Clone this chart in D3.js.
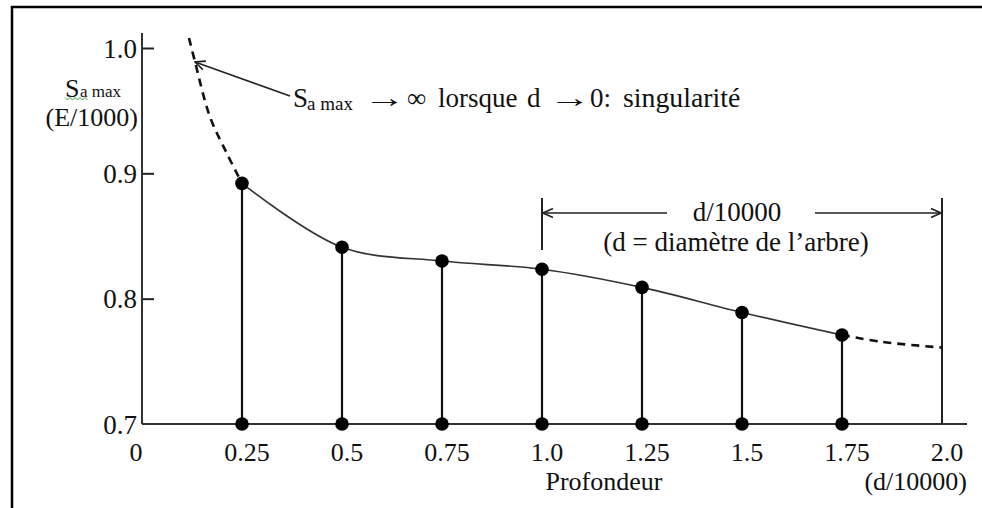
<!DOCTYPE html>
<html>
<head>
<meta charset="utf-8">
<script src="https://cdn.jsdelivr.net/npm/d3@7/dist/d3.min.js"></script>
<style>
  html, body { margin: 0; padding: 0; background: #fff; }
  svg { display: block; }
  text { font-family: "Liberation Serif", "DejaVu Serif", serif; fill: #111; }
</style>
</head>
<body>
<svg id="chart" width="982" height="508"></svg>
<script>
// Depth positions (d/10000) and the measured maximum stress at each one
const depths = [0.25, 0.5, 0.75, 1.0, 1.25, 1.5, 1.75];
const sMax = [0.892, 0.841, 0.830, 0.8235, 0.809, 0.789, 0.771];

// Extrapolated parts of the curve (drawn dashed)
const headDepths = [0.1175, 0.1325, 0.17, 0.212];
const headValues = [1.008, 0.989, 0.945, 0.916];
const tailDepths = [1.85, 2.0];
const tailValues = [0.7655, 0.761];

// Axis ticks
const xTickValues = [0, 0.25, 0.5, 0.75, 1.0, 1.25, 1.5, 1.75, 2.0];
const xTickLabels = ["0", "0.25", "0.5", "0.75", "1.0", "1.25", "1.5", "1.75", "2.0"];
const yTickValues = [0.7, 0.8, 0.9, 1.0];
const yTickLabels = ["0.7", "0.8", "0.9", "1.0"];

const svg = d3.select("#chart");
const FS = 26;
const SERIF = "Liberation Serif, DejaVu Serif, serif";

const x = d3.scaleLinear().domain([0, 2]).range([142, 942]);
const y = d3.scaleLinear().domain([0.7, 1.0]).range([424, 48]);

// outer frame (top and left edges)
svg.append("path")
  .attr("d", "M12,508 L12,7 L982,7")
  .attr("fill", "none").attr("stroke", "#000").attr("stroke-width", 2.5);

// open arrow head
const defs = svg.append("defs");
defs.append("marker")
  .attr("id", "open-arrow")
  .attr("viewBox", "0 0 12 12")
  .attr("refX", 11).attr("refY", 6)
  .attr("markerWidth", 12).attr("markerHeight", 12)
  .attr("markerUnits", "userSpaceOnUse")
  .attr("orient", "auto-start-reverse")
  .append("path")
  .attr("d", "M1,1.5 L11,6 L1,10.5")
  .attr("fill", "none").attr("stroke", "#222").attr("stroke-width", 1.6);

// y axis: line with inward ticks
const yAxis = d3.axisRight(y)
  .tickValues(yTickValues.slice(1))
  .tickSize(12)
  .tickFormat("");
const gy = svg.append("g").attr("transform", `translate(${x(0)},0)`).call(yAxis);
gy.select(".domain").remove();
gy.selectAll(".tick line").attr("stroke", "#222").attr("stroke-width", 2);
svg.append("line")
  .attr("x1", x(0)).attr("x2", x(0))
  .attr("y1", 33).attr("y2", y(0.7))
  .attr("stroke", "#333").attr("stroke-width", 2);

// x axis baseline
svg.append("line")
  .attr("x1", x(0)).attr("x2", 967)
  .attr("y1", y(0.7)).attr("y2", y(0.7))
  .attr("stroke", "#333").attr("stroke-width", 2);

// y tick labels
svg.append("g").selectAll("text")
  .data(yTickValues)
  .join("text")
  .attr("font-family", SERIF)
  .attr("x", 137)
  .attr("y", d => y(d))
  .attr("dy", "0.36em")
  .attr("text-anchor", "end")
  .attr("font-size", FS + 1)
  .text((d, i) => yTickLabels[i]);

// x tick labels
svg.append("g").selectAll("text")
  .data(xTickValues)
  .join("text")
  .attr("font-family", SERIF)
  .attr("x", d => d === 0 ? x(d) - 6 : x(d) + 5)
  .attr("y", 461)
  .attr("text-anchor", "middle")
  .attr("font-size", FS)
  .text((d, i) => xTickLabels[i]);

// x axis titles
svg.append("text")
  .attr("font-family", SERIF)
  .attr("x", 604).attr("y", 490)
  .attr("text-anchor", "middle").attr("font-size", FS)
  .text("Profondeur");
svg.append("text")
  .attr("font-family", SERIF)
  .attr("x", 967).attr("y", 490)
  .attr("text-anchor", "end").attr("font-size", FS)
  .text("(d/10000)");

// y axis title
svg.append("text").attr("font-family", SERIF)
  .attr("x", 65).attr("y", 97).attr("font-size", FS).text("S");
svg.append("text").attr("font-family", SERIF)
  .attr("x", 80).attr("y", 97).attr("font-size", 17).text("a max");
svg.append("text")
  .attr("font-family", SERIF)
  .attr("x", 138).attr("y", 126)
  .attr("text-anchor", "end").attr("font-size", FS)
  .text("(E/1000)");
// spelling underline under the S
svg.append("path")
  .attr("d", "M65,97.5 l2.5,2.5 l2.5,-2.5 l2.5,2.5 l2.5,-2.5 l2.5,2.5 l2.5,-2.5 l2.5,2.5 l2.5,-2.5 l2.5,2.5")
  .attr("fill", "none").attr("stroke", "#3a9a3a").attr("stroke-width", 1);

// stems from baseline to each point
svg.append("g").selectAll("line")
  .data(depths)
  .join("line")
  .attr("x1", d => x(d)).attr("x2", d => x(d))
  .attr("y1", y(0.7)).attr("y2", (d, i) => y(sMax[i]))
  .attr("stroke", "#111").attr("stroke-width", 2.2);

// right boundary at d/10000 = 2.0
svg.append("line")
  .attr("x1", x(2)).attr("x2", x(2))
  .attr("y1", 198).attr("y2", y(0.7))
  .attr("stroke", "#222").attr("stroke-width", 2);
// left boundary of the span
svg.append("line")
  .attr("x1", x(1)).attr("x2", x(1))
  .attr("y1", 198).attr("y2", 250)
  .attr("stroke", "#222").attr("stroke-width", 2);

// measured curve
const line = d3.line()
  .x(d => x(d[0])).y(d => y(d[1]))
  .curve(d3.curveCatmullRom.alpha(0.5));
const measured = depths.map((d, i) => [d, sMax[i]]);
svg.append("path")
  .attr("d", line(measured))
  .attr("fill", "none").attr("stroke", "#333").attr("stroke-width", 1.6);

// dashed extrapolations
const head = headDepths.map((d, i) => [d, headValues[i]]).concat([measured[0]]);
const tail = [measured[measured.length - 1]].concat(tailDepths.map((d, i) => [d, tailValues[i]]));
[head, tail].forEach(seg => {
  svg.append("path")
    .attr("d", line(seg))
    .attr("fill", "none").attr("stroke", "#111")
    .attr("stroke-width", 2.6)
    .attr("stroke-dasharray", "8,6");
});

// points on the curve and on the baseline
svg.append("g").selectAll("circle")
  .data(depths)
  .join("circle")
  .attr("cx", d => x(d)).attr("cy", (d, i) => y(sMax[i]))
  .attr("r", 6.8).attr("fill", "#000");
svg.append("g").selectAll("circle")
  .data(depths)
  .join("circle")
  .attr("cx", d => x(d)).attr("cy", y(0.7))
  .attr("r", 6.8).attr("fill", "#000");

// singularity annotation
svg.append("line")
  .attr("x1", 290).attr("y1", 96)
  .attr("x2", 195).attr("y2", 62)
  .attr("stroke", "#222").attr("stroke-width", 1.6)
  .attr("marker-end", "url(#open-arrow)");
const annBase = 107;
const annParts = [
  { t: "S", x: 293, dy: 0, fs: FS + 1, sx: 1 },
  { t: "a max", x: 307, dy: 3, fs: 19, sx: 1 },
  { t: "\u2192", x: 364, dy: 0, fs: FS + 1, sx: 1.55, font: "DejaVu Serif" },
  { t: "\u221e", x: 407, dy: 0, fs: FS + 1, sx: 1 },
  { t: "lorsque", x: 438, dy: 0, fs: FS + 1, sx: 1 },
  { t: "d", x: 527, dy: 0, fs: FS + 1, sx: 1 },
  { t: "\u2192", x: 549, dy: 0, fs: FS + 1, sx: 1.55, font: "DejaVu Serif" },
  { t: "0:", x: 590, dy: 0, fs: FS + 1, sx: 1 },
  { t: "singularité", x: 623, dy: 0, fs: FS + 1, sx: 1.03 }
];
svg.append("g").selectAll("text")
  .data(annParts)
  .join("text")
  .attr("font-family", d => d.font || SERIF)
  .attr("transform", d => `translate(${d.x},${annBase + d.dy}) scale(${d.sx},1)`)
  .attr("font-size", d => d.fs)
  .text(d => d.t);

// span annotation between 1.0 and 2.0
const arrowY = 213;
svg.append("line")
  .attr("x1", 667).attr("x2", x(1) + 1)
  .attr("y1", arrowY).attr("y2", arrowY)
  .attr("stroke", "#222").attr("stroke-width", 1.6)
  .attr("marker-end", "url(#open-arrow)");
svg.append("line")
  .attr("x1", 815).attr("x2", x(2) - 1)
  .attr("y1", arrowY).attr("y2", arrowY)
  .attr("stroke", "#222").attr("stroke-width", 1.6)
  .attr("marker-end", "url(#open-arrow)");
svg.append("text")
  .attr("font-family", SERIF)
  .attr("x", 737).attr("y", 221)
  .attr("text-anchor", "middle").attr("font-size", FS + 1)
  .text("d/10000");
svg.append("text")
  .attr("font-family", SERIF)
  .attr("x", 736).attr("y", 251)
  .attr("text-anchor", "middle").attr("font-size", FS + 1)
  .text("(d = diamètre de l\u2019arbre)");
</script>
</body>
</html>
